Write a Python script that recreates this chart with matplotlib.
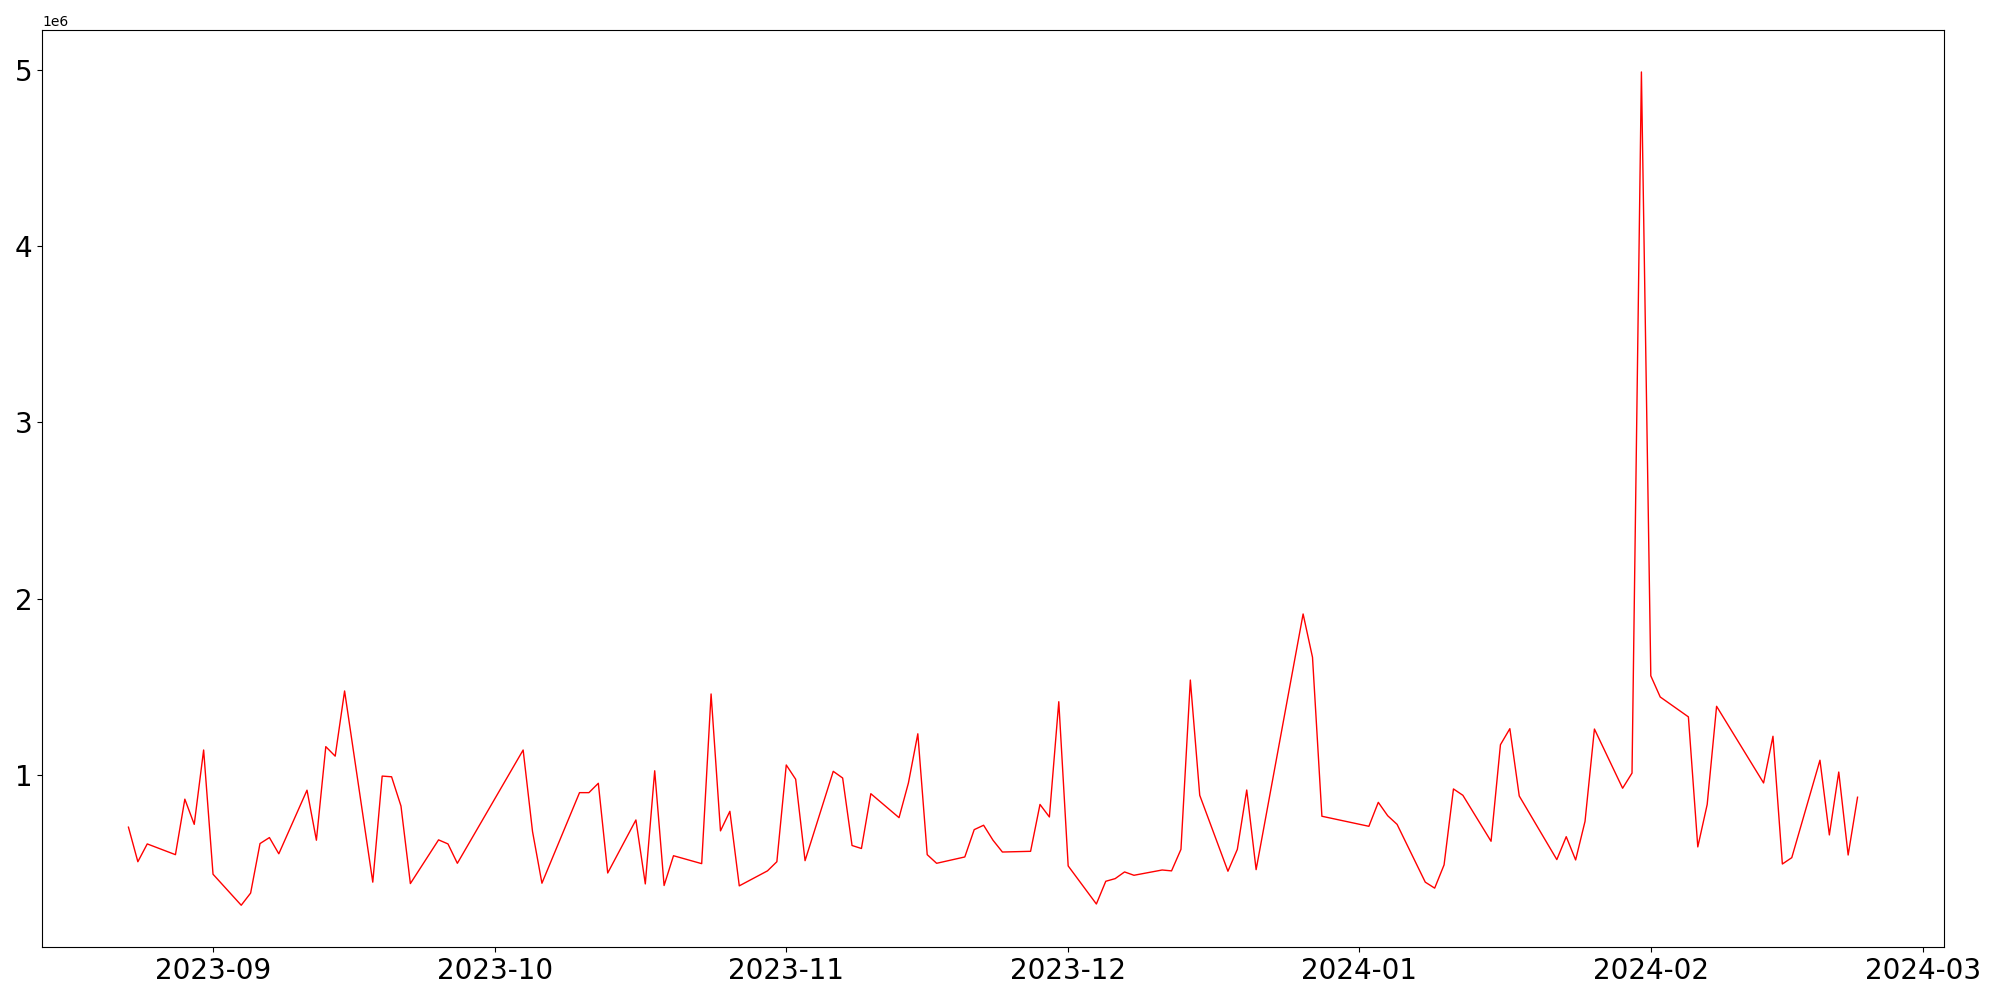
import pandas as pd
import matplotlib
matplotlib.use("Agg")
import matplotlib.pyplot as plt

# trading days and daily values
dates = [
    "2023-08-23", "2023-08-24", "2023-08-25", "2023-08-28", "2023-08-29", "2023-08-30",
    "2023-08-31", "2023-09-01", "2023-09-04", "2023-09-05", "2023-09-06", "2023-09-07",
    "2023-09-08", "2023-09-11", "2023-09-12", "2023-09-13", "2023-09-14", "2023-09-15",
    "2023-09-18", "2023-09-19", "2023-09-20", "2023-09-21", "2023-09-22", "2023-09-25",
    "2023-09-26", "2023-09-27", "2023-10-04", "2023-10-05", "2023-10-06", "2023-10-10",
    "2023-10-11", "2023-10-12", "2023-10-13", "2023-10-16", "2023-10-17", "2023-10-18",
    "2023-10-19", "2023-10-20", "2023-10-23", "2023-10-24", "2023-10-25", "2023-10-26",
    "2023-10-27", "2023-10-30", "2023-10-31", "2023-11-01", "2023-11-02", "2023-11-03",
    "2023-11-06", "2023-11-07", "2023-11-08", "2023-11-09", "2023-11-10", "2023-11-13",
    "2023-11-14", "2023-11-15", "2023-11-16", "2023-11-17", "2023-11-20", "2023-11-21",
    "2023-11-22", "2023-11-23", "2023-11-24", "2023-11-27", "2023-11-28", "2023-11-29",
    "2023-11-30", "2023-12-01", "2023-12-04", "2023-12-05", "2023-12-06", "2023-12-07",
    "2023-12-08", "2023-12-11", "2023-12-12", "2023-12-13", "2023-12-14", "2023-12-15",
    "2023-12-18", "2023-12-19", "2023-12-20", "2023-12-21", "2023-12-26", "2023-12-27",
    "2023-12-28", "2024-01-02", "2024-01-03", "2024-01-04", "2024-01-05", "2024-01-08",
    "2024-01-09", "2024-01-10", "2024-01-11", "2024-01-12", "2024-01-15", "2024-01-16",
    "2024-01-17", "2024-01-18", "2024-01-22", "2024-01-23", "2024-01-24", "2024-01-25",
    "2024-01-26", "2024-01-29", "2024-01-30", "2024-01-31", "2024-02-01", "2024-02-02",
    "2024-02-05", "2024-02-06", "2024-02-07", "2024-02-08", "2024-02-13", "2024-02-14",
    "2024-02-15", "2024-02-16", "2024-02-19", "2024-02-20", "2024-02-21", "2024-02-22",
    "2024-02-23",
]

# values in millions
values_m = [
    0.703, 0.507, 0.608, 0.547, 0.862, 0.719,
    1.141, 0.436, 0.260, 0.329, 0.610, 0.644,
    0.552, 0.913, 0.629, 1.160, 1.106, 1.476,
    0.391, 0.993, 0.989, 0.823, 0.383, 0.631,
    0.608, 0.498, 1.141, 0.678, 0.385, 0.899,
    0.899, 0.952, 0.443, 0.744, 0.381, 1.023,
    0.372, 0.541, 0.496, 1.459, 0.682, 0.793,
    0.370, 0.455, 0.507, 1.056, 0.975, 0.513,
    1.020, 0.982, 0.599, 0.582, 0.893, 0.757,
    0.954, 1.233, 0.547, 0.498, 0.534, 0.689,
    0.714, 0.629, 0.562, 0.566, 0.832, 0.761,
    1.415, 0.483, 0.267, 0.396, 0.411, 0.449,
    0.430, 0.460, 0.455, 0.577, 1.538, 0.884,
    0.453, 0.577, 0.914, 0.462, 1.913, 1.667,
    0.765, 0.708, 0.844, 0.768, 0.719, 0.391,
    0.357, 0.489, 0.920, 0.884, 0.623, 1.171,
    1.262, 0.880, 0.519, 0.649, 0.517, 0.736,
    1.260, 0.924, 1.010, 4.989, 1.562, 1.442,
    1.329, 0.591, 0.832, 1.389, 0.954, 1.219,
    0.494, 0.530, 1.083, 0.659, 1.016, 0.545,
    0.873,
]

x = pd.to_datetime(dates)
y = [v * 1e6 for v in values_m]

fig, ax = plt.subplots(figsize=(20, 10), dpi=100)
ax.plot(x, y, color="red", linewidth=1)
ax.tick_params(axis="both", labelsize=20)
fig.subplots_adjust(left=0.021, right=0.972, top=0.9697, bottom=0.0531)
fig.savefig("out.png")
